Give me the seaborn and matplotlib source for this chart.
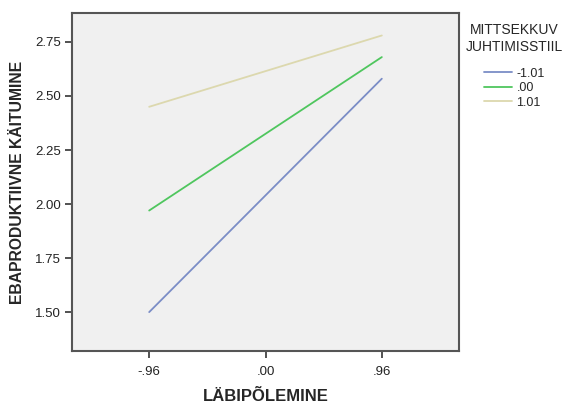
import matplotlib
matplotlib.use("Agg")
import matplotlib.pyplot as plt
import seaborn as sns
import pandas as pd

# data
x_levels = [-0.96, 0.96]
groups = ["-1.01", ".00", "1.01"]
y_low = [1.50, 1.97, 2.45]   # at x = -.96
y_high = [2.58, 2.68, 2.78]  # at x = .96
colours = ["#7B8DC6", "#4FC65E", "#DCD8AE"]

x_ticks = [-0.96, 0.0, 0.96]
x_ticklabels = ["-.96", ".00", ".96"]
y_ticks = [1.50, 1.75, 2.00, 2.25, 2.50, 2.75]
y_ticklabels = ["1.50", "1.75", "2.00", "2.25", "2.50", "2.75"]

rows = []
for g, lo, hi in zip(groups, y_low, y_high):
    rows.append({"x": x_levels[0], "y": lo, "g": g})
    rows.append({"x": x_levels[1], "y": hi, "g": g})
df = pd.DataFrame(rows)

sns.set_style("white")
plt.rcParams["font.family"] = ["Liberation Sans", "DejaVu Sans"]

fig = plt.figure(figsize=(5.7, 4.04), dpi=100)
ax = fig.add_axes([72 / 570, 1 - 351 / 404, (459 - 72) / 570, (351 - 13) / 404])
ax.set_facecolor("#F0F0F0")

sns.lineplot(data=df, x="x", y="y", hue="g", hue_order=groups,
             palette=colours, linewidth=1.3, ax=ax, legend=True)

ax.set_xlim(-1.597, 1.597)
ax.set_ylim(1.32, 2.884)
ax.set_xticks(x_ticks)
ax.set_xticklabels(x_ticklabels)
ax.set_yticks(y_ticks)
ax.set_yticklabels(y_ticklabels)
ax.tick_params(direction="out", length=5, width=1.2, color="#333333",
               labelsize=9.5, labelcolor="#222222", pad=3,
               bottom=True, left=True)
ax.tick_params(axis="x", pad=6)
for s in ax.spines.values():
    s.set_color("#555555")
    s.set_linewidth(1.5)

ax.set_xlabel("LÄBIPÕLEMINE", fontsize=12, fontweight="bold", labelpad=8)
ax.set_ylabel("EBAPRODUKTIIVNE KÄITUMINE", fontsize=11.3, fontweight="bold",
              labelpad=7)

leg = ax.legend(title="MITTSEKKUV\nJUHTIMISSTIIL", loc="upper left",
                bbox_to_anchor=(0.995, 0.995), frameon=False, fontsize=9,
                title_fontsize=10, handlelength=2.2, labelspacing=0.2,
                handletextpad=0.4, borderaxespad=0.3)
leg._legend_box.align = "center"
leg.get_title().set_multialignment("center")
leg._legend_box.sep = 10

fig.savefig("out.png", dpi=100)
